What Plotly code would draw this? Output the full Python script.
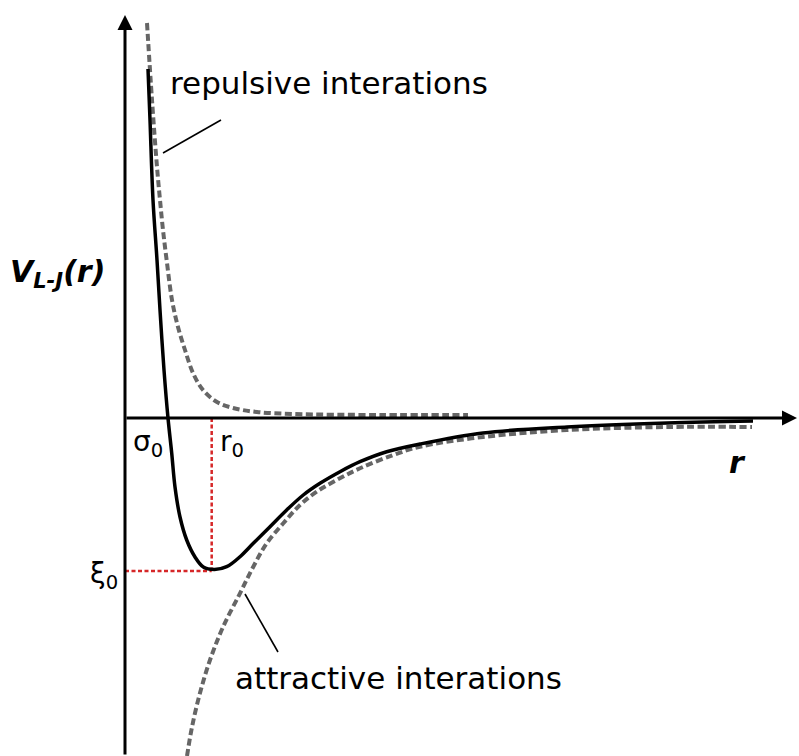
import plotly.graph_objects as go

# Lennard-Jones sketch, arbitrary units (r horizontal, V vertical)
r_lj = [0.23, 0.25, 0.28, 0.32, 0.35, 0.39, 0.43, 0.467, 0.50, 0.55, 0.617,
        0.70, 0.783, 0.895, 1.017, 1.15, 1.283, 1.45, 1.617, 1.783, 1.95,
        2.15, 2.35, 2.617, 2.95, 3.58, 4.42, 5.42, 6.28]
v_lj = [3.49, 2.98, 2.18, 1.58, 1.08, 0.48, 0.00, -0.35, -0.69, -0.99, -1.22,
        -1.39, -1.49, -1.515, -1.487, -1.387, -1.253, -1.087, -0.92, -0.77,
        -0.653, -0.537, -0.437, -0.337, -0.26, -0.15, -0.09, -0.05, -0.03]

# repulsive term
r_rep = [0.22, 0.27, 0.32, 0.35, 0.38, 0.42, 0.47, 0.53, 0.60, 0.68, 0.78,
         0.92, 1.08, 1.32, 1.68, 2.55, 3.43]
v_rep = [3.95, 3.18, 2.51, 2.18, 1.88, 1.55, 1.18, 0.91, 0.68, 0.45, 0.28,
         0.16, 0.10, 0.06, 0.04, 0.03, 0.03]

# attractive term
r_att = [0.62, 0.67, 0.75, 0.85, 0.98, 1.15, 1.283, 1.417, 1.583, 1.75, 1.917,
         2.117, 2.35, 2.683, 2.95, 3.58, 4.42, 5.42, 6.27]
v_att = [-3.38, -3.09, -2.75, -2.42, -2.09, -1.753, -1.487, -1.253, -1.053,
         -0.87, -0.737, -0.62, -0.503, -0.37, -0.287, -0.19, -0.12, -0.09, -0.09]

r0 = 0.867
xi0 = -1.53

X_RANGE = [-1.25, 6.74]
Y_RANGE = [-3.38, 4.18]

FONT = "DejaVu Sans"
GREY = "#666666"
RED = "#d62728"

fig = go.Figure()

# red guide lines to the minimum
fig.add_trace(go.Scatter(x=[r0, r0], y=[0, xi0], mode="lines",
                         line=dict(color=RED, width=2.5, dash="4px,2.5px")))
fig.add_trace(go.Scatter(x=[0, r0], y=[xi0, xi0], mode="lines",
                         line=dict(color=RED, width=2.5, dash="4px,2.5px")))

# component curves
fig.add_trace(go.Scatter(x=r_rep, y=v_rep, mode="lines", line_shape="spline",
                         line=dict(color=GREY, width=4, dash="7px,3.5px")))
fig.add_trace(go.Scatter(x=r_att, y=v_att, mode="lines", line_shape="spline",
                         line=dict(color=GREY, width=4, dash="7px,3.5px")))

# total potential
fig.add_trace(go.Scatter(x=r_lj, y=v_lj, mode="lines", line_shape="spline",
                         line=dict(color="black", width=3.5)))

# leader lines for the labels
fig.add_trace(go.Scatter(x=[0.38, 0.96], y=[2.65, 2.98], mode="lines",
                         line=dict(color="black", width=1.6)))
fig.add_trace(go.Scatter(x=[1.20, 1.53], y=[-1.76, -2.34], mode="lines",
                         line=dict(color="black", width=1.6)))

# axes with arrow heads
fig.add_annotation(x=0, y=4.03, ax=0, ay=Y_RANGE[0], xref="x", yref="y",
                   axref="x", ayref="y", showarrow=True, arrowhead=2,
                   arrowsize=1.0, arrowwidth=3, arrowcolor="black", text="")
fig.add_annotation(x=6.72, y=0, ax=0, ay=0, xref="x", yref="y",
                   axref="x", ayref="y", showarrow=True, arrowhead=2,
                   arrowsize=1.0, arrowwidth=3, arrowcolor="black", text="")

labels = [
    ("repulsive interations", 2.04, 3.35, 31, "normal", "normal"),
    ("attractive interations", 2.73, -2.60, 31, "normal", "normal"),
    ("σ<sub>0</sub>", 0.23, -0.25, 28, "normal", "normal"),
    ("r<sub>0</sub>", 1.07, -0.25, 28, "normal", "normal"),
    ("ξ<sub>0</sub>", -0.21, -1.57, 28, "normal", "normal"),
    ("r", 6.12, -0.44, 30, "bold", "italic"),
    ("V<sub>L-J</sub>(r)", -0.68, 1.45, 30, "bold", "italic"),
]
for text, x, y, size, weight, style in labels:
    fig.add_annotation(x=x, y=y, xref="x", yref="y", text=text, showarrow=False,
                       font=dict(family=FONT, size=size, color="black",
                                 weight=weight, style=style),
                       xanchor="center", yanchor="middle")

fig.update_layout(
    width=799, height=756,
    margin=dict(l=0, r=0, t=0, b=0),
    paper_bgcolor="white", plot_bgcolor="white",
    showlegend=False,
    xaxis=dict(range=X_RANGE, visible=False, fixedrange=True),
    yaxis=dict(range=Y_RANGE, visible=False, fixedrange=True),
)

fig.write_html("out.html")
